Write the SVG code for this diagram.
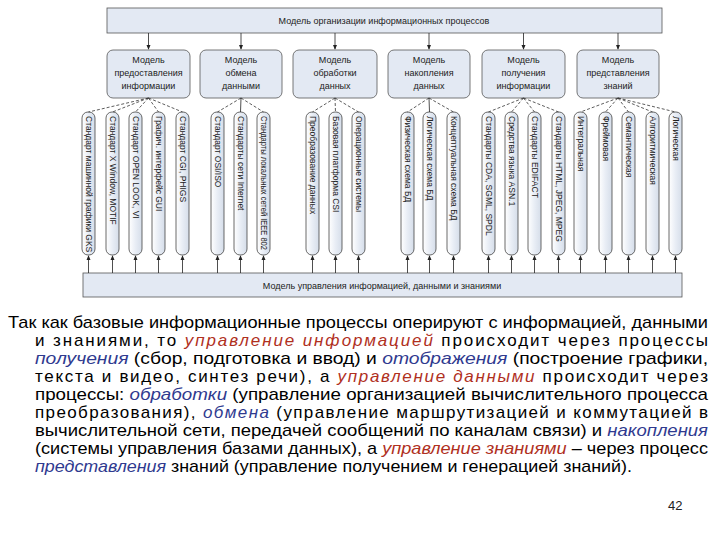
<svg xmlns="http://www.w3.org/2000/svg" width="720" height="540" viewBox="0 0 720 540">
<defs>
<linearGradient id="g" x1="0" x2="1" y1="0" y2="0"><stop offset="0" stop-color="#ffffff"/><stop offset="0.5" stop-color="#e8edf5"/><stop offset="1" stop-color="#d5dde9"/></linearGradient>
<marker id="ar" markerWidth="6" markerHeight="6" refX="5" refY="3" orient="auto"><path d="M0,0.5 L6,3 L0,5.5 z" fill="#222"/></marker>
<style>
.box{fill:#e3e9f3;stroke:#555;stroke-width:0.8}
.pill{fill:url(#g);stroke:#444;stroke-width:0.8}
.t{font-family:"Liberation Sans",Arial,sans-serif;fill:#222}
.s{font-size:9px}
.v{font-size:8.5px}
.p{font-size:17px;fill:#000}
.r{fill:#b0301e;font-style:italic}
.b{fill:#2f3a8f;font-style:italic}
.c line{stroke:#222;stroke-width:0.8}
.c .d{stroke-dasharray:3,2;stroke:#333}
</style>
</defs>
<rect width="720" height="540" fill="#fff"/>
<g id="top"><rect class="box" x="107" y="8" width="555" height="25"/><text class="t s" x="384" y="24" text-anchor="middle">Модель организации информационных процессов</text></g>
<g id="bottom"><rect class="box" x="83" y="273" width="599" height="24"/><text class="t s" x="382" y="289" text-anchor="middle">Модель управления информацией, данными и знаниями</text></g>
<g id="m1"><rect class="box" x="107" y="50" width="83" height="48" rx="6"/><text class="t s" text-anchor="middle"><tspan x="148.5" y="63">Модель</tspan><tspan x="148.5" y="76">предоставления</tspan><tspan x="148.5" y="89">информации</tspan></text></g>
<g id="m2"><rect class="box" x="200" y="50" width="82" height="48" rx="6"/><text class="t s" text-anchor="middle"><tspan x="241" y="63">Модель</tspan><tspan x="241" y="76">обмена</tspan><tspan x="241" y="89">данными</tspan></text></g>
<g id="m3"><rect class="box" x="293" y="50" width="84" height="48" rx="6"/><text class="t s" text-anchor="middle"><tspan x="335" y="63">Модель</tspan><tspan x="335" y="76">обработки</tspan><tspan x="335" y="89">данных</tspan></text></g>
<g id="m4"><rect class="box" x="388" y="50" width="82" height="48" rx="6"/><text class="t s" text-anchor="middle"><tspan x="429" y="63">Модель</tspan><tspan x="429" y="76">накопления</tspan><tspan x="429" y="89">данных</tspan></text></g>
<g id="m5"><rect class="box" x="482" y="50" width="83" height="48" rx="6"/><text class="t s" text-anchor="middle"><tspan x="523.5" y="63">Модель</tspan><tspan x="523.5" y="76">получения</tspan><tspan x="523.5" y="89">информации</tspan></text></g>
<g id="m6"><rect class="box" x="577" y="50" width="82" height="48" rx="6"/><text class="t s" text-anchor="middle"><tspan x="618" y="63">Модель</tspan><tspan x="618" y="76">представления</tspan><tspan x="618" y="89">знаний</tspan></text></g>
<g id="pills">
<g id="p1"><rect class="pill" x="82" y="112" width="13" height="143" rx="6"/><text class="t v" transform="translate(85.5,116) rotate(90)">Стандарт машинной графики GKS</text></g>
<g id="p2"><rect class="pill" x="106" y="112" width="13" height="143" rx="6"/><text class="t v" transform="translate(109.5,116) rotate(90)">Стандарт X Window, MOTIF</text></g>
<g id="p3"><rect class="pill" x="129" y="112" width="13" height="143" rx="6"/><text class="t v" transform="translate(132.5,116) rotate(90)">Стандарт OPEN LOOK, VI</text></g>
<g id="p4"><rect class="pill" x="152" y="112" width="13" height="143" rx="6"/><text class="t v" transform="translate(155.5,116) rotate(90)">Графич. интерфейс GUI</text></g>
<g id="p5"><rect class="pill" x="176" y="112" width="13" height="143" rx="6"/><text class="t v" transform="translate(179.5,116) rotate(90)">Стандарт CGI, PHIGS</text></g>
<g id="p6"><rect class="pill" x="211" y="112" width="13" height="143" rx="6"/><text class="t v" transform="translate(214.5,116) rotate(90)">Стандарт OSI/ISO</text></g>
<g id="p7"><rect class="pill" x="234" y="112" width="13" height="143" rx="6"/><text class="t v" transform="translate(237.5,116) rotate(90)">Стандарты сети Internet</text></g>
<g id="p8"><rect class="pill" x="257" y="112" width="13" height="143" rx="6"/><text class="t v" transform="translate(260.5,116) rotate(90)" textLength="134" lengthAdjust="spacingAndGlyphs">Стандарты локальных сетей IEEE 802</text></g>
<g id="p9"><rect class="pill" x="306" y="112" width="13" height="143" rx="6"/><text class="t v" transform="translate(309.5,116) rotate(90)">Преобразование данных</text></g>
<g id="p10"><rect class="pill" x="329" y="112" width="13" height="143" rx="6"/><text class="t v" transform="translate(332.5,116) rotate(90)">Базовая платформа CSI</text></g>
<g id="p11"><rect class="pill" x="352" y="112" width="13" height="143" rx="6"/><text class="t v" transform="translate(355.5,116) rotate(90)">Операционные системы</text></g>
<g id="p12"><rect class="pill" x="401" y="112" width="13" height="143" rx="6"/><text class="t v" transform="translate(404.5,116) rotate(90)">Физическая схема БД</text></g>
<g id="p13"><rect class="pill" x="423" y="112" width="13" height="143" rx="6"/><text class="t v" transform="translate(426.5,116) rotate(90)">Логическая схема БД</text></g>
<g id="p14"><rect class="pill" x="447" y="112" width="13" height="143" rx="6"/><text class="t v" transform="translate(450.5,116) rotate(90)">Концептуальная схема БД</text></g>
<g id="p15"><rect class="pill" x="482" y="112" width="13" height="143" rx="6"/><text class="t v" transform="translate(485.5,116) rotate(90)">Стандарты CDA, SGML, SPDL</text></g>
<g id="p16"><rect class="pill" x="505" y="112" width="13" height="143" rx="6"/><text class="t v" transform="translate(508.5,116) rotate(90)">Средства языка ASN.1</text></g>
<g id="p17"><rect class="pill" x="528" y="112" width="13" height="143" rx="6"/><text class="t v" transform="translate(531.5,116) rotate(90)">Стандарты EDIFACT</text></g>
<g id="p18"><rect class="pill" x="552" y="112" width="13" height="143" rx="6"/><text class="t v" transform="translate(555.5,116) rotate(90)">Стандарты HTML, JPEG, MPEG</text></g>
<g id="p19"><rect class="pill" x="574" y="112" width="13" height="143" rx="6"/><text class="t v" transform="translate(577.5,116) rotate(90)">Интегральная</text></g>
<g id="p20"><rect class="pill" x="599" y="112" width="13" height="143" rx="6"/><text class="t v" transform="translate(602.5,116) rotate(90)">Фреймовая</text></g>
<g id="p21"><rect class="pill" x="622" y="112" width="13" height="143" rx="6"/><text class="t v" transform="translate(625.5,116) rotate(90)">Семантическая</text></g>
<g id="p22"><rect class="pill" x="646" y="112" width="13" height="143" rx="6"/><text class="t v" transform="translate(649.5,116) rotate(90)">Алгоритмическая</text></g>
<g id="p23"><rect class="pill" x="669" y="112" width="13" height="143" rx="6"/><text class="t v" transform="translate(672.5,116) rotate(90)">Логическая</text></g>
</g>
<g id="connectors" class="c">
<line x1="148.5" y1="33" x2="148.5" y2="49" marker-end="url(#ar)"/>
<line x1="241" y1="33" x2="241" y2="49" marker-end="url(#ar)"/>
<line x1="335" y1="33" x2="335" y2="49" marker-end="url(#ar)"/>
<line x1="429" y1="33" x2="429" y2="49" marker-end="url(#ar)"/>
<line x1="523.5" y1="33" x2="523.5" y2="49" marker-end="url(#ar)"/>
<line x1="618" y1="33" x2="618" y2="49" marker-end="url(#ar)"/>
<line class="d" x1="148.5" y1="98" x2="88.5" y2="112"/><line class="d" x1="148.5" y1="98" x2="112.5" y2="112"/><line class="d" x1="148.5" y1="98" x2="135.5" y2="112"/><line class="d" x1="148.5" y1="98" x2="158.5" y2="112"/><line class="d" x1="148.5" y1="98" x2="182.5" y2="112"/>
<line class="d" x1="241" y1="98" x2="217.5" y2="112"/><line x1="241" y1="98" x2="240.5" y2="112"/><line class="d" x1="241" y1="98" x2="263.5" y2="112"/>
<line class="d" x1="335" y1="98" x2="312.5" y2="112"/><line class="d" x1="335" y1="98" x2="335.5" y2="112"/><line class="d" x1="335" y1="98" x2="358.5" y2="112"/>
<line class="d" x1="429" y1="98" x2="407.5" y2="112"/><line x1="429" y1="98" x2="429.5" y2="112"/><line class="d" x1="429" y1="98" x2="453.5" y2="112"/>
<line class="d" x1="523.5" y1="98" x2="488.5" y2="112"/><line class="d" x1="523.5" y1="98" x2="511.5" y2="112"/><line class="d" x1="523.5" y1="98" x2="534.5" y2="112"/><line class="d" x1="523.5" y1="98" x2="558.5" y2="112"/>
<line class="d" x1="618" y1="98" x2="580.5" y2="112"/><line class="d" x1="618" y1="98" x2="605.5" y2="112"/><line class="d" x1="618" y1="98" x2="628.5" y2="112"/><line class="d" x1="618" y1="98" x2="652.5" y2="112"/><line class="d" x1="618" y1="98" x2="675.5" y2="112"/>
<g id="up">
<line x1="88.5" y1="273" x2="88.5" y2="256" marker-end="url(#ar)"/><line x1="112.5" y1="273" x2="112.5" y2="256" marker-end="url(#ar)"/><line x1="135.5" y1="273" x2="135.5" y2="256" marker-end="url(#ar)"/><line x1="158.5" y1="273" x2="158.5" y2="256" marker-end="url(#ar)"/><line x1="182.5" y1="273" x2="182.5" y2="256" marker-end="url(#ar)"/>
<line x1="217.5" y1="273" x2="217.5" y2="256" marker-end="url(#ar)"/><line x1="240.5" y1="273" x2="240.5" y2="256" marker-end="url(#ar)"/><line x1="263.5" y1="273" x2="263.5" y2="256" marker-end="url(#ar)"/>
<line x1="312.5" y1="273" x2="312.5" y2="256" marker-end="url(#ar)"/><line x1="335.5" y1="273" x2="335.5" y2="256" marker-end="url(#ar)"/><line x1="358.5" y1="273" x2="358.5" y2="256" marker-end="url(#ar)"/>
<line x1="407.5" y1="273" x2="407.5" y2="256" marker-end="url(#ar)"/><line x1="429.5" y1="273" x2="429.5" y2="256" marker-end="url(#ar)"/><line x1="453.5" y1="273" x2="453.5" y2="256" marker-end="url(#ar)"/>
<line x1="488.5" y1="273" x2="488.5" y2="256" marker-end="url(#ar)"/><line x1="511.5" y1="273" x2="511.5" y2="256" marker-end="url(#ar)"/><line x1="534.5" y1="273" x2="534.5" y2="256" marker-end="url(#ar)"/><line x1="558.5" y1="273" x2="558.5" y2="256" marker-end="url(#ar)"/>
<line x1="580.5" y1="273" x2="580.5" y2="256" marker-end="url(#ar)"/><line x1="605.5" y1="273" x2="605.5" y2="256" marker-end="url(#ar)"/><line x1="628.5" y1="273" x2="628.5" y2="256" marker-end="url(#ar)"/><line x1="652.5" y1="273" x2="652.5" y2="256" marker-end="url(#ar)"/><line x1="675.5" y1="273" x2="675.5" y2="256" marker-end="url(#ar)"/>
</g>
</g>
<g id="paragraph" class="t p">
<text x="8" y="328" textLength="700" lengthAdjust="spacingAndGlyphs">Так как базовые информационные процессы оперируют с информацией, данными</text>
<text x="35" y="346" textLength="673" lengthAdjust="spacing">и  знаниями,  то  <tspan class="r">управление  информацией</tspan>  происходит  через  процессы</text>
<text x="35" y="364" textLength="673" lengthAdjust="spacingAndGlyphs"><tspan class="b">получения</tspan> (сбор, подготовка и ввод) и <tspan class="b">отображения</tspan> (построение графики,</text>
<text x="35" y="382" textLength="673" lengthAdjust="spacing">текста  и  видео,  синтез  речи),  а  <tspan class="r">управление  данными</tspan>  происходит  через</text>
<text x="35" y="400" textLength="673" lengthAdjust="spacingAndGlyphs">процессы: <tspan class="b">обработки</tspan> (управление организацией вычислительного процесса</text>
<text x="35" y="418" textLength="673" lengthAdjust="spacing">преобразования),  <tspan class="b">обмена</tspan>  (управление  маршрутизацией  и  коммутацией  в</text>
<text x="35" y="436" textLength="673" lengthAdjust="spacingAndGlyphs">вычислительной сети, передачей сообщений по каналам связи) и <tspan class="b">накопления</tspan></text>
<text x="35" y="454" textLength="673" lengthAdjust="spacingAndGlyphs">(системы управления базами данных), а <tspan class="r">управление знаниями</tspan> – через процесс</text>
<text x="35" y="472" textLength="597" lengthAdjust="spacingAndGlyphs"><tspan class="b">представления</tspan> знаний (управление получением и генерацией знаний).</text>
</g>
<text class="t" x="668" y="510" font-size="13" fill="#000">42</text>
</svg>
